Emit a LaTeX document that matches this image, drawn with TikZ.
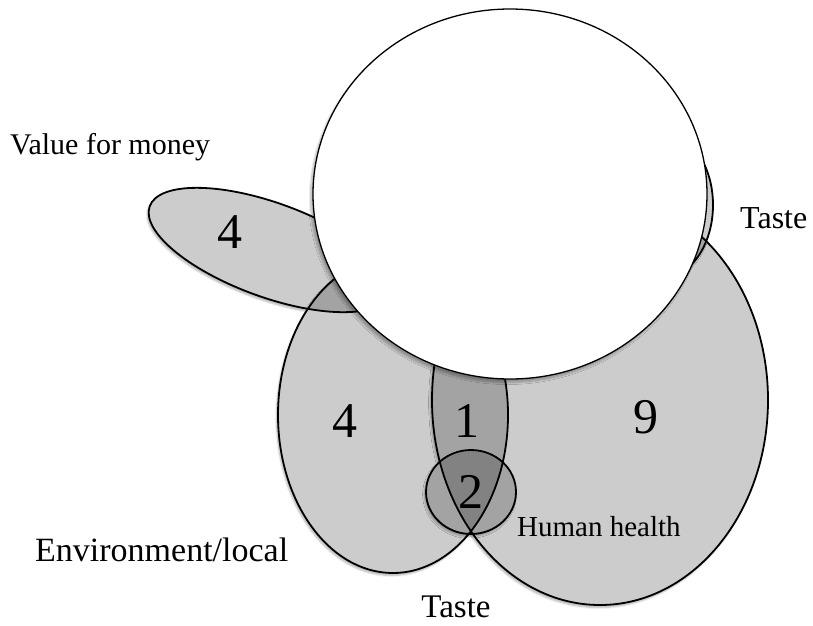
\documentclass[tikz,border=0pt]{standalone}
\usepackage{fontspec}
\setmainfont{Liberation Serif}
\usetikzlibrary{shadows.blur}

\begin{document}
\begin{tikzpicture}[
    x=1pt, y=-1pt,
    set/.style={draw, line width=1.8pt, fill=black, fill opacity=0.2},
    setshadow/.style={fill=white, blur shadow={shadow xshift=-1.5pt, shadow yshift=-2.5pt, shadow blur steps=6, shadow opacity=30}},
    count/.style={font=\fontsize{50}{50}\selectfont, inner sep=0pt},
    setname/.style={font=\fontsize{#1}{#1}\selectfont, inner sep=0pt},
    setname/.default=31
]
    \useasboundingbox (0,0) rectangle (813,625);
    % Shadows first, then the see-through sets
    \foreach \cx/\cy/\rx/\ry/\rot in {270/250/128/47/-20, 393/415/115/158/0, 600/400/168/205/0, 660/205/53/74/0, 471/492/45/42/0} {
        \path[setshadow] (\cx,\cy) ellipse [x radius=\rx pt, y radius=\ry pt, rotate=\rot];
    }
    \foreach \cx/\cy/\rx/\ry/\rot in {270/250/128/47/-20, 393/415/115/158/0, 600/400/168/205/0, 660/205/53/74/0, 471/492/45/42/0} {
        \draw[set] (\cx,\cy) ellipse [x radius=\rx pt, y radius=\ry pt, rotate=\rot];
    }
    % Big white circle on top
    \draw[line width=1.3pt, fill=white, blur shadow={shadow xshift=-2.5pt, shadow yshift=-3.5pt, shadow blur steps=8, shadow blur radius=2pt, shadow opacity=30}]
        (510,194) ellipse [x radius=197pt, y radius=185pt];
    % Counts
    \foreach \x/\y/\n/\id in {230/232/4/vfm, 345/421/4/env, 467/421/1/envtaste, 646/417/9/taste, 471/492/2/health} {
        \node[count] (n-\id) at (\x,\y) {\n};
    }
    % Set names
    \node[setname=30, anchor=base west] (vfm) at (10,154) {Value for money};
    \node[setname=32, anchor=base west] (taste-r) at (740,228) {Taste};
    \node[setname=34, anchor=base west] (env) at (35,561) {Environment/local};
    \node[setname=33, anchor=base] (taste-b) at (456,617) {Taste};
    \node[setname=29, anchor=base west] (health) at (517,536) {Human health};
\end{tikzpicture}
\end{document}
